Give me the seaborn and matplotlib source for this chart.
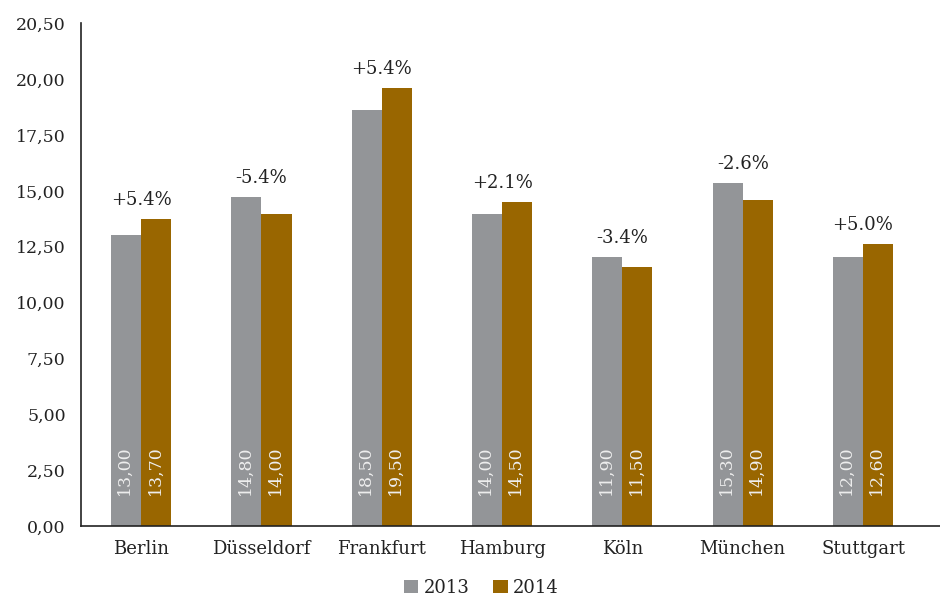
import matplotlib
matplotlib.use("Agg")
import matplotlib.pyplot as plt
import seaborn as sns
import pandas as pd
import numpy as np

cities = ["Berlin", "Düsseldorf", "Frankfurt", "Hamburg", "Köln", "München", "Stuttgart"]
years = ["2013", "2014"]
values_2013 = [13.03, 14.73, 18.63, 13.97, 12.05, 15.36, 12.05]
values_2014 = [13.75, 13.97, 19.61, 14.51, 11.60, 14.60, 12.63]
labels_2013 = ["13,00", "14,80", "18,50", "14,00", "11,90", "15,30", "12,00"]
labels_2014 = ["13,70", "14,00", "19,50", "14,50", "11,50", "14,90", "12,60"]
changes = ["+5.4%", "-5.4%", "+5.4%", "+2.1%", "-3.4%", "-2.6%", "+5.0%"]
ytick_values = [0, 2.5, 5, 7.5, 10, 12.5, 15, 17.5, 20, 22.5]
ytick_labels = ["0,00", "2,50", "5,00", "7,50", "10,00", "12,50", "15,00", "17,50", "20,00", "20,50"]

colors = {"2013": "#939598", "2014": "#996600"}

df = pd.DataFrame({
    "city": cities * 2,
    "year": ["2013"] * len(cities) + ["2014"] * len(cities),
    "value": values_2013 + values_2014,
})

sns.set_theme(style="white")
plt.rcParams["font.family"] = ["DejaVu Serif"]

fig = plt.figure(figsize=(9.4, 6.01), dpi=100)
ax = fig.add_axes([81 / 940, 1 - 526 / 601, 1 - 81 / 940, (526 - 23.3) / 601])

sns.barplot(data=df, x="city", y="value", hue="year", palette=colors,
            width=0.5, saturation=1, ax=ax, legend=True, order=cities, hue_order=years,
            linewidth=0, edgecolor="none")

ax.set_ylim(0, 22.5)
ax.set_xlim(-0.5, 6.64)
ax.set_yticks(ytick_values)
ax.set_yticklabels(ytick_labels, fontsize=12.5, color="#222222")
ax.set_xticks(range(len(cities)))
ax.set_xticklabels(cities, fontsize=13, color="#222222")
ax.tick_params(axis="x", which="major", length=0, pad=10)
ax.set_xticks(np.arange(0.5, len(cities) - 1, 1.0), minor=True)
ax.tick_params(axis="x", which="minor", length=5, width=1, color="#222222", direction="out")
ax.tick_params(axis="y", length=5, width=1, color="#222222", direction="out", pad=6)
ax.set_xlabel("")
ax.set_ylabel("")
for s in ["top", "right"]:
    ax.spines[s].set_visible(False)
for s in ["left", "bottom"]:
    ax.spines[s].set_color("#222222")
    ax.spines[s].set_linewidth(1.2)

label_sets = [labels_2013, labels_2014]
for cont, labs in zip(ax.containers, label_sets):
    for bar, lab in zip(cont, labs):
        x = bar.get_x() + bar.get_width() / 2
        ax.annotate(lab, xy=(x, 0), xytext=(-1, 31 * 0.72), textcoords="offset points",
                    rotation=90, ha="center", va="bottom", fontsize=12.5,
                    color="#eeeeee")

for i, ch in enumerate(changes):
    top = max(values_2013[i], values_2014[i])
    ax.annotate(ch, xy=(i, top), xytext=(0, 7), textcoords="offset points",
                ha="center", va="bottom", fontsize=13, color="#222222")

leg = ax.legend(loc="lower center", bbox_to_anchor=(0.512, -0.02), bbox_transform=fig.transFigure,
                ncol=2, frameon=False, fontsize=13, handlelength=0.8, handleheight=0.8,
                handletextpad=0.3, columnspacing=1.3)
for t in leg.get_texts():
    t.set_color("#222222")

fig.savefig("out.png", dpi=100)
